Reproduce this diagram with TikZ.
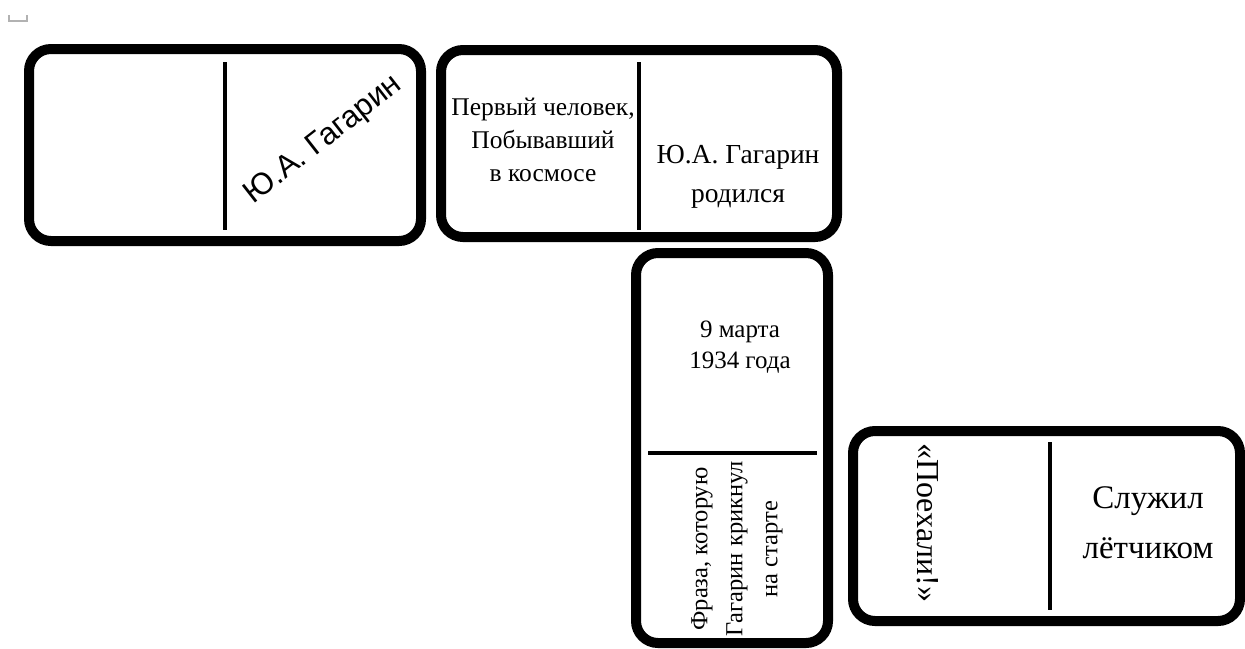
\documentclass[tikz,border=0pt]{standalone}
\usepackage{fontspec}
\setmainfont{Liberation Serif}
\newfontfamily\arialfont{Liberation Sans}
\tikzset{
  tile/.style={draw=black, line width=10pt, rounded corners=22pt, fill=white, inner sep=0pt},
  divider/.style={draw=black, line width=4pt},
  lbl/.style={align=center, inner sep=0pt, font=\fontsize{25.5}{33}\selectfont},
}
\begin{document}
\begin{tikzpicture}[x=1pt,y=-1pt]
\path[use as bounding box, fill=white] (0,0) rectangle (1245,648);
% small paragraph mark
\coordinate (m1) at (9,15); \coordinate (m2) at (9,21); \coordinate (m3) at (27,21); \coordinate (m4) at (27,15);
\draw[gray!60, line width=1.2pt] (m1) -- (m2) -- (m3) -- (m4);
% tiles
\node[tile, minimum width=392pt, minimum height=192pt] (b1) at (225,145) {};
\node[tile, minimum width=396pt, minimum height=187pt] (b2) at (639,143.5) {};
\node[tile, minimum width=192pt, minimum height=390pt] (b3) at (732,448) {};
\node[tile, minimum width=387pt, minimum height=190pt] (b4) at (1046.5,526) {};
% dividers
\coordinate (d1a) at (225,62); \coordinate (d1b) at (225,230);
\coordinate (d2a) at (639,62); \coordinate (d2b) at (639,230);
\coordinate (d3a) at (648,453); \coordinate (d3b) at (817,453);
\coordinate (d4a) at (1050,442); \coordinate (d4b) at (1050,610);
\draw[divider] (d1a) -- (d1b);
\draw[divider] (d2a) -- (d2b);
\draw[divider] (d3a) -- (d3b);
\draw[divider] (d4a) -- (d4b);
% texts
\node[lbl, rotate=38, font=\arialfont\fontsize{31}{33}\selectfont] (t1) at (324,140) {Ю.А. Гагарин};
\node[lbl] (t2) at (543,140) {Первый человек,\\Побывавший\\в космосе};
\node[lbl, font=\fontsize{27.5}{39}\selectfont] (t3) at (738,177) {Ю.А. Гагарин\\родился};
\node[lbl, font=\fontsize{25}{31}\selectfont] (t4) at (740,347) {9 марта\\1934 года};
\node[lbl, rotate=90, font=\fontsize{24.5}{35}\selectfont] (t5) at (737,549) {Фраза, которую\\Гагарин крикнул\\на старте};
\node[lbl, rotate=-90, font=\fontsize{32}{33}\selectfont] (t6) at (928,523) {«Поехали!»};
\node[lbl, font=\fontsize{33}{50}\selectfont] (t7) at (1148,523) {Служил\\лётчиком};
\end{tikzpicture}
\end{document}
